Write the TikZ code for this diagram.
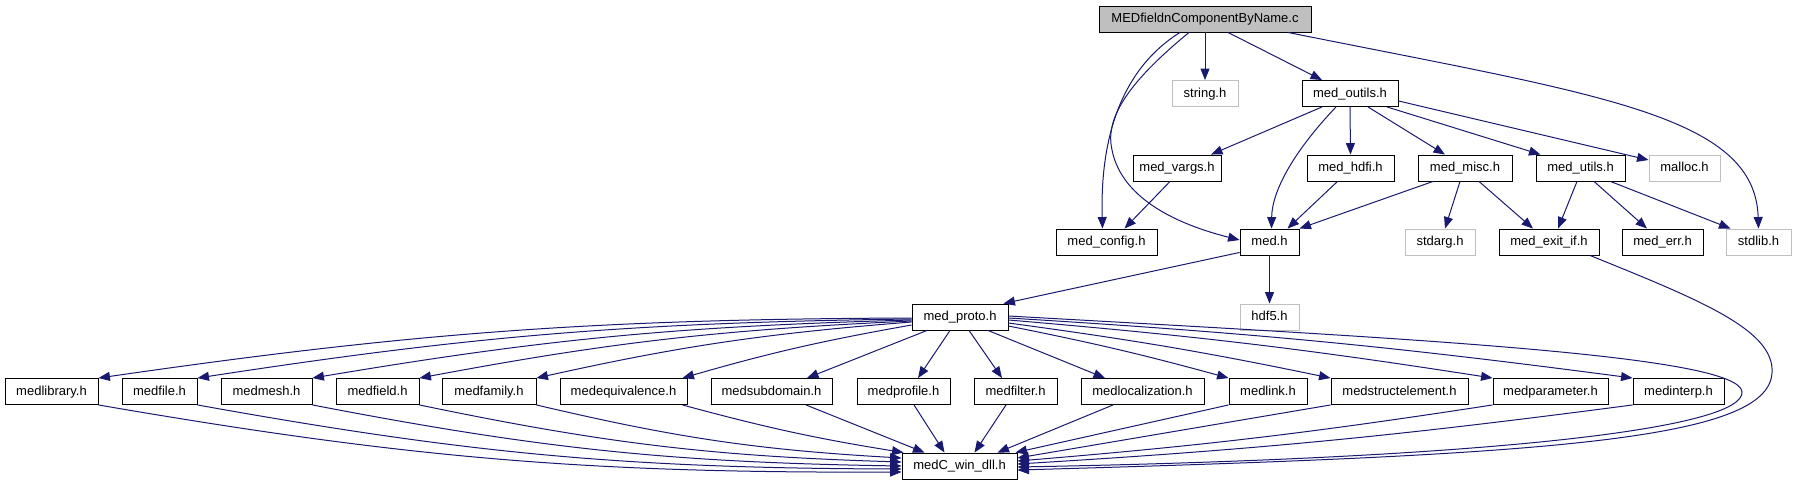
\documentclass[tikz,border=0pt]{standalone}
\usepackage{fontspec}
\setmainfont{Liberation Sans}
\usetikzlibrary{arrows.meta}
\definecolor{edgeblue}{RGB}{25,25,112}
\definecolor{graybd}{RGB}{191,191,191}
\begin{document}
\begin{tikzpicture}[x=1pt,y=-1pt,
  box/.style={draw=black, line width=0.9pt, rectangle, inner sep=0pt, minimum height=26pt,
    font=\fontsize{13}{15}\selectfont, text height=9.5pt, text depth=2.5pt},
  ext/.style={box, draw=graybd},
  mainbox/.style={box, fill=graybd},
  conn/.style={draw=edgeblue, line width=1pt, -{Triangle[length=11.5pt,width=9pt]}}]
\useasboundingbox (0,0) rectangle (1796,485);

% row 0
\node[mainbox, minimum width=212pt] (main) at (1205,19) {MEDfieldnComponentByName.c};
% row 1
\node[ext, minimum width=66pt] (string) at (1205,93.5) {string.h};
\node[box, minimum width=96pt] (outils) at (1350,93.5) {med\_outils.h};
% row 2
\node[box, minimum width=88pt] (vargs) at (1177,168) {med\_vargs.h};
\node[box, minimum width=87pt] (hdfi) at (1350.5,168) {med\_hdfi.h};
\node[box, minimum width=94pt] (misc) at (1465,168) {med\_misc.h};
\node[box, minimum width=89pt] (utils) at (1580.5,168) {med\_utils.h};
\node[ext, minimum width=71pt] (malloc) at (1684.5,168) {malloc.h};
% row 3
\node[box, minimum width=101pt] (config) at (1106.5,242) {med\_config.h};
\node[box, minimum width=59pt] (med) at (1269.5,242) {med.h};
\node[ext, minimum width=70pt] (stdarg) at (1440,242) {stdarg.h};
\node[box, minimum width=100pt] (exitif) at (1549,242) {med\_exit\_if.h};
\node[box, minimum width=81pt] (err) at (1662.5,242) {med\_err.h};
\node[ext, minimum width=65pt] (stdlib) at (1758.5,242) {stdlib.h};
% row 4
\node[box, minimum width=96pt] (proto) at (960,317) {med\_proto.h};
\node[ext, minimum width=59pt] (hdf5) at (1269.5,317) {hdf5.h};
% row 5
\node[box, minimum width=93pt] (library) at (51.5,391.5) {medlibrary.h};
\node[box, minimum width=75pt] (file) at (159.5,391.5) {medfile.h};
\node[box, minimum width=91pt] (mesh) at (266.5,391.5) {medmesh.h};
\node[box, minimum width=83pt] (field) at (377.5,391.5) {medfield.h};
\node[box, minimum width=94pt] (family) at (489,391.5) {medfamily.h};
\node[box, minimum width=127pt] (equiv) at (623.5,391.5) {medequivalence.h};
\node[box, minimum width=121pt] (subdom) at (771.5,391.5) {medsubdomain.h};
\node[box, minimum width=93pt] (profile) at (903.5,391.5) {medprofile.h};
\node[box, minimum width=83pt] (filter) at (1015.5,391.5) {medfilter.h};
\node[box, minimum width=123pt] (local) at (1142.5,391.5) {medlocalization.h};
\node[box, minimum width=78pt] (link) at (1268,391.5) {medlink.h};
\node[box, minimum width=137pt] (struct) at (1399.5,391.5) {medstructelement.h};
\node[box, minimum width=115pt] (param) at (1550.5,391.5) {medparameter.h};
\node[box, minimum width=91pt] (interp) at (1678.5,391.5) {medinterp.h};
% row 6
\node[box, minimum width=115pt] (dll) at (959.5,466) {medC\_win\_dll.h};

% edges from main
\draw[conn] ([xshift=-25pt]main.south) .. controls (1120,70) and (1100,140) .. ([xshift=-4pt]config.north);
\draw[conn] ([xshift=-16pt]main.south) .. controls (1125,85) and (1105,120) .. (1112,150)
   .. controls (1122,200) and (1180,225) .. ([yshift=2pt]med.west);
\draw[conn] (main.south) -- (string.north);
\draw[conn] ([xshift=23pt]main.south) -- ([xshift=-28pt]outils.north);
\draw[conn] ([xshift=83pt]main.south) .. controls (1600,95) and (1755,115) .. (stdlib.north);

% edges from med_outils
\draw[conn] ([xshift=-28pt]outils.south) -- ([xshift=34pt]vargs.north);
\draw[conn] ([xshift=-14pt]outils.south) .. controls (1295,150) and (1272,190) .. ([xshift=2pt]med.north);
\draw[conn] (outils.south) -- (hdfi.north);
\draw[conn] ([xshift=18pt]outils.south) -- ([xshift=-20pt]misc.north);
\draw[conn] ([xshift=37pt]outils.south) -- ([xshift=-40pt]utils.north);
\draw[conn] ([yshift=6pt]outils.south east) -- ([yshift=8pt]malloc.west);

% row 2 -> row 3
\draw[conn] ([xshift=-7pt]vargs.south) -- ([xshift=18pt]config.north);
\draw[conn] ([xshift=-13pt]hdfi.south) -- ([xshift=18pt]med.north);
\draw[conn] ([xshift=-32pt]misc.south) -- (med.north east);
\draw[conn] ([xshift=-5pt]misc.south) -- ([xshift=5pt]stdarg.north);
\draw[conn] ([xshift=14pt]misc.south) -- ([xshift=-16pt]exitif.north);
\draw[conn] ([xshift=-3.5pt]utils.south) -- ([xshift=9pt]exitif.north);
\draw[conn] ([xshift=13.5pt]utils.south) -- ([xshift=-15.5pt]err.north);
\draw[conn] ([xshift=30pt]utils.south) -- ([xshift=-28pt]stdlib.north);

% med.h
\draw[conn] ([yshift=3pt]med.south west) -- ([xshift=-5pt]proto.north east);
\draw[conn] (med.south) -- (hdf5.north);

% med_exit_if -> dll
\draw[conn] ([xshift=41pt]exitif.south) .. controls (1700,300) and (1775,330) .. (1772,373)
   .. controls (1768,440) and (1550,455) .. ([yshift=-4pt]dll.east);

% med_proto -> row 5
\draw[conn] ([yshift=-1pt]proto.west) to[bend right=4] (library.north east);
\draw[conn] ([yshift=-2pt]proto.west) to[bend right=4] (file.north east);
\draw[conn] ([yshift=-3pt]proto.west) to[bend right=4] (mesh.north east);
\draw[conn] ([yshift=-4pt]proto.west) to[bend right=4] (field.north east);
\draw[conn] ([yshift=-5pt]proto.west) to[bend right=4] (family.north east);
\draw[conn] ([yshift=-8pt]proto.west) to[bend right=3] ([xshift=-5pt]equiv.north east);
\draw[conn] ([xshift=-33pt]proto.south) -- ([xshift=35.5pt]subdom.north);
\draw[conn] ([xshift=-10pt]proto.south) -- ([xshift=14.5pt]profile.north);
\draw[conn] ([xshift=9pt]proto.south) -- ([xshift=-13.5pt]filter.north);
\draw[conn] ([xshift=28pt]proto.south) -- ([xshift=-37.5pt]local.north);
\draw[conn] ([yshift=-9pt]proto.east) to[bend left=2] (link.north west);
\draw[conn] ([yshift=-6pt]proto.east) to[bend left=2] (struct.north west);
\draw[conn] ([yshift=-3pt]proto.east) to[bend left=2] (param.north west);
\draw[conn] ([yshift=-1pt]proto.east) to[bend left=2] (interp.north west);
\draw[conn] ([yshift=1pt]proto.east) .. controls (1400,338) and (1740,355) .. (1742,392)
   .. controls (1744,428) and (1500,458) .. ([yshift=-1pt]dll.east);

% row 5 -> dll
\draw[conn] (library.south east) to[bend right=5] ([yshift=-6pt]dll.west);
\draw[conn] (file.south east) to[bend right=5] ([yshift=-3pt]dll.west);
\draw[conn] (mesh.south east) to[bend right=5] (dll.west);
\draw[conn] (field.south east) to[bend right=5] ([yshift=4pt]dll.west);
\draw[conn] (family.south east) to[bend right=5] ([yshift=8pt]dll.west);
\draw[conn] ([xshift=-5pt]equiv.south east) to[bend right=3] ([xshift=2pt]dll.north west);
\draw[conn] ([xshift=34.5pt]subdom.south) -- ([xshift=-35pt]dll.north);
\draw[conn] ([xshift=10.5pt]profile.south) -- ([xshift=-15pt]dll.north);
\draw[conn] ([xshift=-9.5pt]filter.south) -- ([xshift=15pt]dll.north);
\draw[conn] ([xshift=-29.5pt]local.south) -- ([xshift=38pt]dll.north);
\draw[conn] (link.south west) -- ([xshift=-2pt]dll.north east);
\draw[conn] (struct.south west) -- ([yshift=8pt]dll.east);
\draw[conn] (param.south west) to[bend left=2] ([yshift=5pt]dll.east);
\draw[conn] (interp.south west) to[bend left=2] ([yshift=2pt]dll.east);
\end{tikzpicture}
\end{document}
